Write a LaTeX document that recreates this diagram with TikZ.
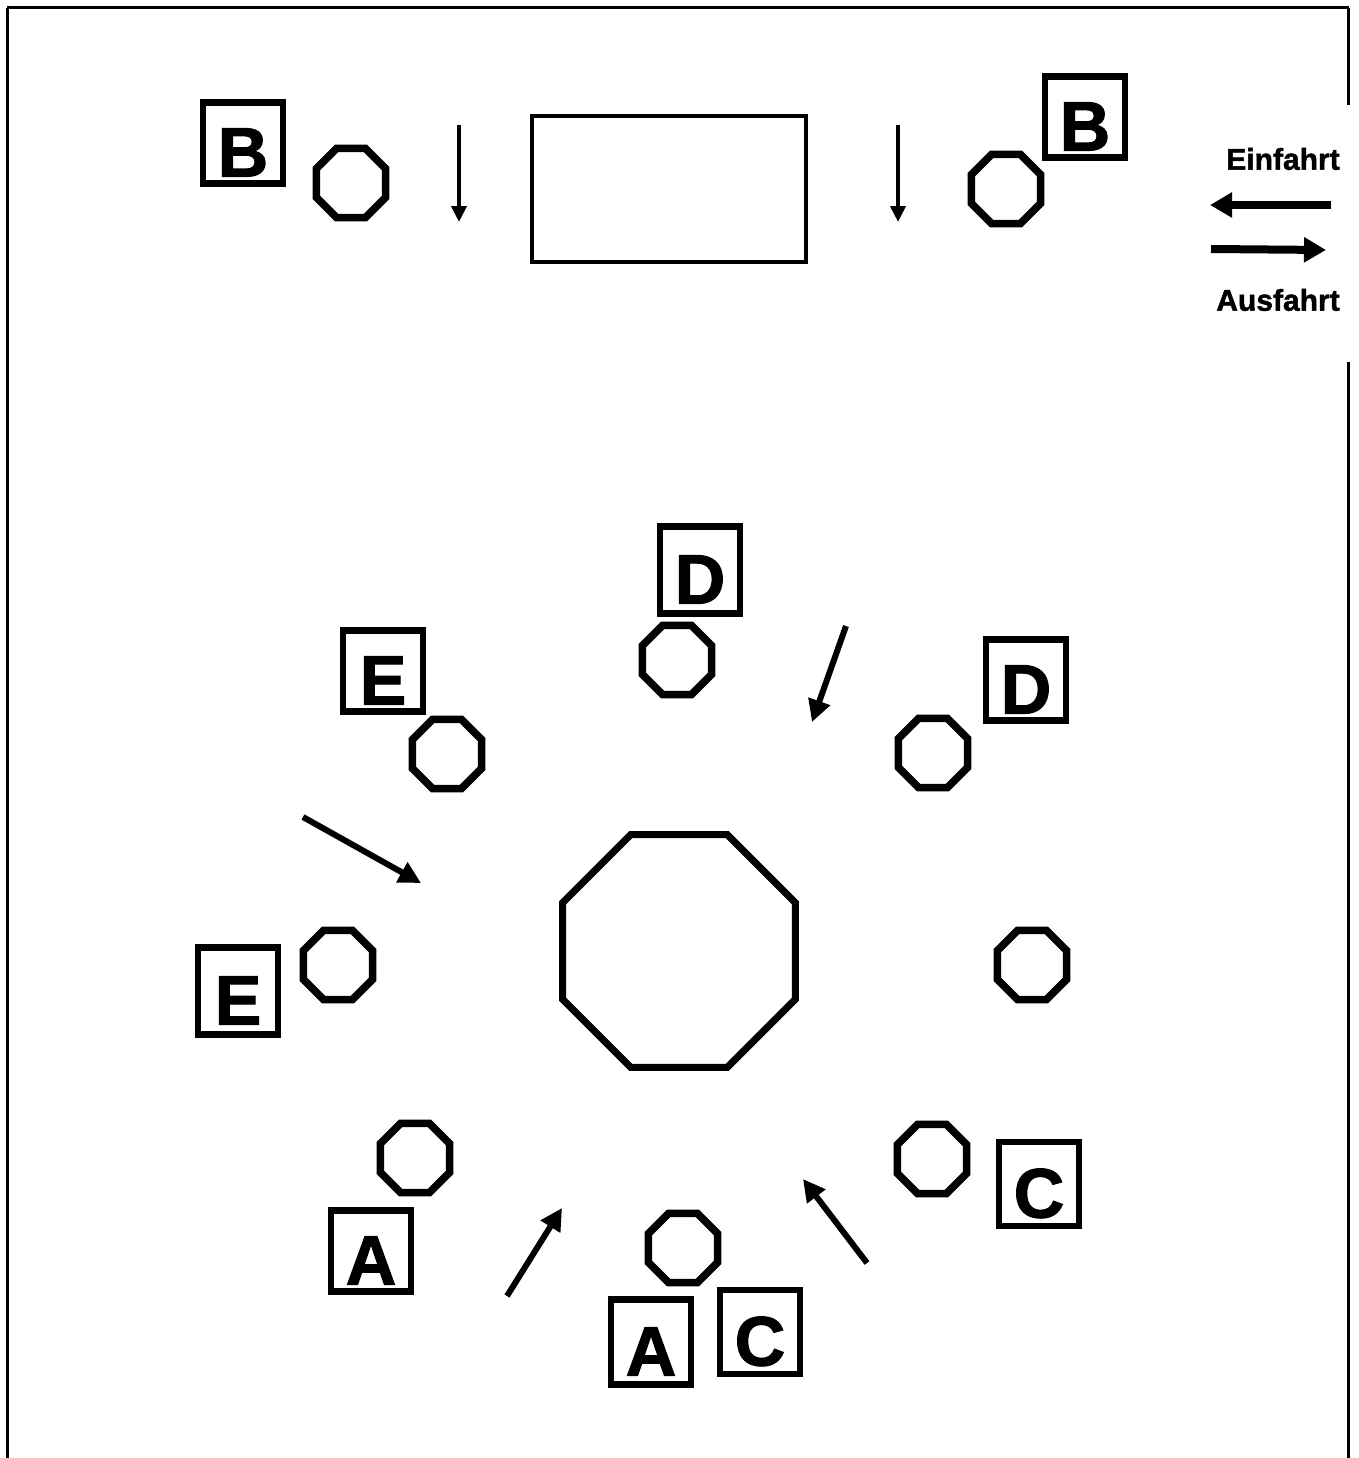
\documentclass[tikz,border=0pt]{standalone}
\usepackage{fontspec}
\setmainfont{Liberation Sans}[BoldFeatures={FakeBold=1.6}]
\usetikzlibrary{shapes.geometric, arrows.meta}
\tikzset{
    letterbox/.style={draw, line width=6.5pt, minimum width=80pt, minimum height=81pt, inner sep=0pt, text height=67pt, text depth=0pt, font=\fontsize{70}{70}\selectfont\bfseries},
    post/.style={draw, regular polygon, regular polygon sides=8, minimum size=75pt, inner sep=0pt, line width=7.5pt},
    bigpost/.style={post, minimum size=252pt, line width=7pt},
    hall/.style={draw, rectangle, line width=4pt, minimum width=274pt, minimum height=146pt},
    legend/.style={font=\fontsize{30}{30}\selectfont\bfseries},
    arrow/.style={-{Triangle[length=22pt, width=22pt]}, line width=6pt},
    droparrow/.style={-{Triangle[length=16pt, width=15pt]}, line width=4pt},
    legendarrow/.style={-{Triangle[length=22pt, width=24pt]}, line width=8pt},
    frame/.style={line width=3pt}
}
\begin{document}
\begin{tikzpicture}[x=1pt, y=-1pt]
    \useasboundingbox (0,0) rectangle (1359,1458);
    % Frame
    \draw [frame] (7,8) -- (1349,8);
    \draw [frame] (7,8) -- (7,1458);
    \draw [frame] (1348,8) -- (1348,105);
    \draw [frame] (1348,362) -- (1348,1458);

    % Nodes
    \node [hall] (hall) at (669,189) {};
    \node [letterbox] (b1) at (243,143) {B};
    \node [letterbox] (b2) at (1085,117) {B};
    \node [post] (p1) at (351,183) {};
    \node [post] (p2) at (1006,189) {};

    \node [bigpost] (center) at (679,951) {};
    \node [post] (p3) at (677,660) {};
    \node [post] (p4) at (447,754) {};
    \node [post] (p5) at (933,753) {};
    \node [post] (p6) at (338,965) {};
    \node [post] (p7) at (1032,965) {};
    \node [post] (p8) at (415,1158) {};
    \node [post] (p9) at (932,1159) {};
    \node [post] (p10) at (683,1248) {};

    \node [letterbox, minimum height=87pt] (d1) at (700,570) {D};
    \node [letterbox] (d2) at (1026,680) {D};
    \node [letterbox] (e1) at (383,671) {E};
    \node [letterbox, minimum height=87pt] (e2) at (238,991) {E};
    \node [letterbox] (a1) at (371,1251) {A};
    \node [letterbox, minimum height=85pt] (a2) at (651,1342) {A};
    \node [letterbox, minimum height=84pt] (c1) at (1039,1184) {C};
    \node [letterbox, minimum height=84pt] (c2) at (760,1332) {C};

    \node [legend] (ein) at (1283,159) {Einfahrt};
    \node [legend] (aus) at (1278,300) {Ausfahrt};

    % Arrow ends
    \coordinate (dl1) at (459,125);
    \coordinate (dl2) at (459,222);
    \coordinate (dr1) at (898,125);
    \coordinate (dr2) at (898,222);
    \coordinate (in1) at (1331,205);
    \coordinate (in2) at (1210,205);
    \coordinate (out1) at (1211,249);
    \coordinate (out2) at (1326,250);
    \coordinate (w1) at (303,817);
    \coordinate (w2) at (421,883);
    \coordinate (n1) at (846,626);
    \coordinate (n2) at (812,722);
    \coordinate (s1) at (507,1296);
    \coordinate (s2) at (562,1208);
    \coordinate (o1) at (867,1263);
    \coordinate (o2) at (803,1179);

    % Connections
    \draw [droparrow] (dl1) -- (dl2);
    \draw [droparrow] (dr1) -- (dr2);
    \draw [legendarrow] (in1) -- (in2);
    \draw [legendarrow] (out1) -- (out2);
    \draw [arrow] (w1) -- (w2);
    \draw [arrow] (n1) -- (n2);
    \draw [arrow] (s1) -- (s2);
    \draw [arrow] (o1) -- (o2);
\end{tikzpicture}
\end{document}
